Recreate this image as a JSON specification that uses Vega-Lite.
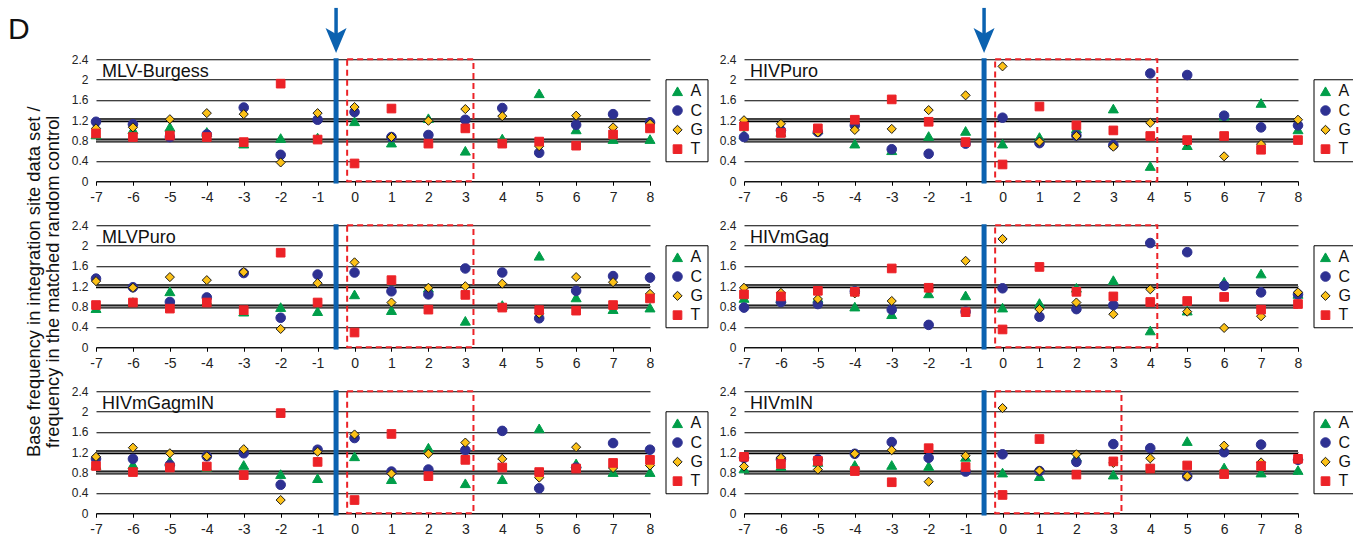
{
"$schema":"https://vega.github.io/schema/vega-lite/v6.json",
"background":"#ffffff",
"autosize":{"type":"pad"},
"padding":{"left":8,"top":5.25,"right":0,"bottom":0},
"datasets":{"pts":[
{"panel":"MLV-Burgess","pos":-7,"base":"A","value":0.92},{"panel":"MLV-Burgess","pos":-7,"base":"C","value":1.17},{"panel":"MLV-Burgess","pos":-7,"base":"G","value":1.04},{"panel":"MLV-Burgess","pos":-7,"base":"T","value":0.94},
{"panel":"MLV-Burgess","pos":-6,"base":"A","value":1.02},{"panel":"MLV-Burgess","pos":-6,"base":"C","value":1.12},{"panel":"MLV-Burgess","pos":-6,"base":"G","value":1.06},{"panel":"MLV-Burgess","pos":-6,"base":"T","value":0.87},
{"panel":"MLV-Burgess","pos":-5,"base":"A","value":1.07},{"panel":"MLV-Burgess","pos":-5,"base":"C","value":0.87},{"panel":"MLV-Burgess","pos":-5,"base":"G","value":1.22},{"panel":"MLV-Burgess","pos":-5,"base":"T","value":0.90},
{"panel":"MLV-Burgess","pos":-4,"base":"A","value":0.97},{"panel":"MLV-Burgess","pos":-4,"base":"C","value":0.92},{"panel":"MLV-Burgess","pos":-4,"base":"G","value":1.34},{"panel":"MLV-Burgess","pos":-4,"base":"T","value":0.87},
{"panel":"MLV-Burgess","pos":-3,"base":"A","value":0.74},{"panel":"MLV-Burgess","pos":-3,"base":"C","value":1.45},{"panel":"MLV-Burgess","pos":-3,"base":"G","value":1.32},{"panel":"MLV-Burgess","pos":-3,"base":"T","value":0.77},
{"panel":"MLV-Burgess","pos":-2,"base":"A","value":0.85},{"panel":"MLV-Burgess","pos":-2,"base":"C","value":0.52},{"panel":"MLV-Burgess","pos":-2,"base":"G","value":0.37},{"panel":"MLV-Burgess","pos":-2,"base":"T","value":1.92},
{"panel":"MLV-Burgess","pos":-1,"base":"A","value":0.86},{"panel":"MLV-Burgess","pos":-1,"base":"C","value":1.21},{"panel":"MLV-Burgess","pos":-1,"base":"G","value":1.34},{"panel":"MLV-Burgess","pos":-1,"base":"T","value":0.82},
{"panel":"MLV-Burgess","pos":0,"base":"A","value":1.18},{"panel":"MLV-Burgess","pos":0,"base":"C","value":1.36},{"panel":"MLV-Burgess","pos":0,"base":"G","value":1.46},{"panel":"MLV-Burgess","pos":0,"base":"T","value":0.35},
{"panel":"MLV-Burgess","pos":1,"base":"A","value":0.76},{"panel":"MLV-Burgess","pos":1,"base":"C","value":0.87},{"panel":"MLV-Burgess","pos":1,"base":"G","value":0.87},{"panel":"MLV-Burgess","pos":1,"base":"T","value":1.43},
{"panel":"MLV-Burgess","pos":2,"base":"A","value":1.24},{"panel":"MLV-Burgess","pos":2,"base":"C","value":0.91},{"panel":"MLV-Burgess","pos":2,"base":"G","value":1.19},{"panel":"MLV-Burgess","pos":2,"base":"T","value":0.74},
{"panel":"MLV-Burgess","pos":3,"base":"A","value":0.60},{"panel":"MLV-Burgess","pos":3,"base":"C","value":1.21},{"panel":"MLV-Burgess","pos":3,"base":"G","value":1.42},{"panel":"MLV-Burgess","pos":3,"base":"T","value":1.04},
{"panel":"MLV-Burgess","pos":4,"base":"A","value":0.84},{"panel":"MLV-Burgess","pos":4,"base":"C","value":1.44},{"panel":"MLV-Burgess","pos":4,"base":"G","value":1.28},{"panel":"MLV-Burgess","pos":4,"base":"T","value":0.74},
{"panel":"MLV-Burgess","pos":5,"base":"A","value":1.73},{"panel":"MLV-Burgess","pos":5,"base":"C","value":0.56},{"panel":"MLV-Burgess","pos":5,"base":"G","value":0.69},{"panel":"MLV-Burgess","pos":5,"base":"T","value":0.78},
{"panel":"MLV-Burgess","pos":6,"base":"A","value":1.02},{"panel":"MLV-Burgess","pos":6,"base":"C","value":1.11},{"panel":"MLV-Burgess","pos":6,"base":"G","value":1.29},{"panel":"MLV-Burgess","pos":6,"base":"T","value":0.70},
{"panel":"MLV-Burgess","pos":7,"base":"A","value":0.83},{"panel":"MLV-Burgess","pos":7,"base":"C","value":1.32},{"panel":"MLV-Burgess","pos":7,"base":"G","value":1.06},{"panel":"MLV-Burgess","pos":7,"base":"T","value":0.92},
{"panel":"MLV-Burgess","pos":8,"base":"A","value":0.83},{"panel":"MLV-Burgess","pos":8,"base":"C","value":1.16},{"panel":"MLV-Burgess","pos":8,"base":"G","value":1.13},{"panel":"MLV-Burgess","pos":8,"base":"T","value":1.04},

{"panel":"HIVPuro","pos":-7,"base":"A","value":0.92},{"panel":"HIVPuro","pos":-7,"base":"C","value":0.87},{"panel":"HIVPuro","pos":-7,"base":"G","value":1.20},{"panel":"HIVPuro","pos":-7,"base":"T","value":1.08},
{"panel":"HIVPuro","pos":-6,"base":"A","value":0.97},{"panel":"HIVPuro","pos":-6,"base":"C","value":1.00},{"panel":"HIVPuro","pos":-6,"base":"G","value":1.13},{"panel":"HIVPuro","pos":-6,"base":"T","value":0.95},
{"panel":"HIVPuro","pos":-5,"base":"A","value":1.02},{"panel":"HIVPuro","pos":-5,"base":"C","value":0.97},{"panel":"HIVPuro","pos":-5,"base":"G","value":0.96},{"panel":"HIVPuro","pos":-5,"base":"T","value":1.04},
{"panel":"HIVPuro","pos":-4,"base":"A","value":0.74},{"panel":"HIVPuro","pos":-4,"base":"C","value":1.10},{"panel":"HIVPuro","pos":-4,"base":"G","value":1.01},{"panel":"HIVPuro","pos":-4,"base":"T","value":1.21},
{"panel":"HIVPuro","pos":-3,"base":"A","value":0.61},{"panel":"HIVPuro","pos":-3,"base":"C","value":0.63},{"panel":"HIVPuro","pos":-3,"base":"G","value":1.03},{"panel":"HIVPuro","pos":-3,"base":"T","value":1.61},
{"panel":"HIVPuro","pos":-2,"base":"A","value":0.89},{"panel":"HIVPuro","pos":-2,"base":"C","value":0.54},{"panel":"HIVPuro","pos":-2,"base":"G","value":1.40},{"panel":"HIVPuro","pos":-2,"base":"T","value":1.17},
{"panel":"HIVPuro","pos":-1,"base":"A","value":0.99},{"panel":"HIVPuro","pos":-1,"base":"C","value":0.74},{"panel":"HIVPuro","pos":-1,"base":"G","value":1.69},{"panel":"HIVPuro","pos":-1,"base":"T","value":0.77},
{"panel":"HIVPuro","pos":0,"base":"A","value":0.74},{"panel":"HIVPuro","pos":0,"base":"C","value":1.25},{"panel":"HIVPuro","pos":0,"base":"G","value":2.26},{"panel":"HIVPuro","pos":0,"base":"T","value":0.33},
{"panel":"HIVPuro","pos":1,"base":"A","value":0.87},{"panel":"HIVPuro","pos":1,"base":"C","value":0.75},{"panel":"HIVPuro","pos":1,"base":"G","value":0.78},{"panel":"HIVPuro","pos":1,"base":"T","value":1.47},
{"panel":"HIVPuro","pos":2,"base":"A","value":1.04},{"panel":"HIVPuro","pos":2,"base":"C","value":0.90},{"panel":"HIVPuro","pos":2,"base":"G","value":0.89},{"panel":"HIVPuro","pos":2,"base":"T","value":1.10},
{"panel":"HIVPuro","pos":3,"base":"A","value":1.43},{"panel":"HIVPuro","pos":3,"base":"C","value":0.71},{"panel":"HIVPuro","pos":3,"base":"G","value":0.68},{"panel":"HIVPuro","pos":3,"base":"T","value":1.00},
{"panel":"HIVPuro","pos":4,"base":"A","value":0.30},{"panel":"HIVPuro","pos":4,"base":"C","value":2.12},{"panel":"HIVPuro","pos":4,"base":"G","value":1.15},{"panel":"HIVPuro","pos":4,"base":"T","value":0.89},
{"panel":"HIVPuro","pos":5,"base":"A","value":0.71},{"panel":"HIVPuro","pos":5,"base":"C","value":2.09},{"panel":"HIVPuro","pos":5,"base":"G","value":0.78},{"panel":"HIVPuro","pos":5,"base":"T","value":0.81},
{"panel":"HIVPuro","pos":6,"base":"A","value":1.29},{"panel":"HIVPuro","pos":6,"base":"C","value":1.29},{"panel":"HIVPuro","pos":6,"base":"G","value":0.49},{"panel":"HIVPuro","pos":6,"base":"T","value":0.89},
{"panel":"HIVPuro","pos":7,"base":"A","value":1.54},{"panel":"HIVPuro","pos":7,"base":"C","value":1.06},{"panel":"HIVPuro","pos":7,"base":"G","value":0.73},{"panel":"HIVPuro","pos":7,"base":"T","value":0.62},
{"panel":"HIVPuro","pos":8,"base":"A","value":1.02},{"panel":"HIVPuro","pos":8,"base":"C","value":1.10},{"panel":"HIVPuro","pos":8,"base":"G","value":1.21},{"panel":"HIVPuro","pos":8,"base":"T","value":0.81},

{"panel":"MLVPuro","pos":-7,"base":"A","value":0.77},{"panel":"MLVPuro","pos":-7,"base":"C","value":1.35},{"panel":"MLVPuro","pos":-7,"base":"G","value":1.30},{"panel":"MLVPuro","pos":-7,"base":"T","value":0.83},
{"panel":"MLVPuro","pos":-6,"base":"A","value":0.89},{"panel":"MLVPuro","pos":-6,"base":"C","value":1.18},{"panel":"MLVPuro","pos":-6,"base":"G","value":1.17},{"panel":"MLVPuro","pos":-6,"base":"T","value":0.88},
{"panel":"MLVPuro","pos":-5,"base":"A","value":1.10},{"panel":"MLVPuro","pos":-5,"base":"C","value":0.89},{"panel":"MLVPuro","pos":-5,"base":"G","value":1.38},{"panel":"MLVPuro","pos":-5,"base":"T","value":0.76},
{"panel":"MLVPuro","pos":-4,"base":"A","value":0.92},{"panel":"MLVPuro","pos":-4,"base":"C","value":0.98},{"panel":"MLVPuro","pos":-4,"base":"G","value":1.32},{"panel":"MLVPuro","pos":-4,"base":"T","value":0.88},
{"panel":"MLVPuro","pos":-3,"base":"A","value":0.70},{"panel":"MLVPuro","pos":-3,"base":"C","value":1.46},{"panel":"MLVPuro","pos":-3,"base":"G","value":1.48},{"panel":"MLVPuro","pos":-3,"base":"T","value":0.73},
{"panel":"MLVPuro","pos":-2,"base":"A","value":0.79},{"panel":"MLVPuro","pos":-2,"base":"C","value":0.58},{"panel":"MLVPuro","pos":-2,"base":"G","value":0.36},{"panel":"MLVPuro","pos":-2,"base":"T","value":1.86},
{"panel":"MLVPuro","pos":-1,"base":"A","value":0.71},{"panel":"MLVPuro","pos":-1,"base":"C","value":1.43},{"panel":"MLVPuro","pos":-1,"base":"G","value":1.26},{"panel":"MLVPuro","pos":-1,"base":"T","value":0.88},
{"panel":"MLVPuro","pos":0,"base":"A","value":1.04},{"panel":"MLVPuro","pos":0,"base":"C","value":1.47},{"panel":"MLVPuro","pos":0,"base":"G","value":1.67},{"panel":"MLVPuro","pos":0,"base":"T","value":0.29},
{"panel":"MLVPuro","pos":1,"base":"A","value":0.73},{"panel":"MLVPuro","pos":1,"base":"C","value":1.10},{"panel":"MLVPuro","pos":1,"base":"G","value":0.88},{"panel":"MLVPuro","pos":1,"base":"T","value":1.32},
{"panel":"MLVPuro","pos":2,"base":"A","value":1.17},{"panel":"MLVPuro","pos":2,"base":"C","value":1.04},{"panel":"MLVPuro","pos":2,"base":"G","value":1.17},{"panel":"MLVPuro","pos":2,"base":"T","value":0.74},
{"panel":"MLVPuro","pos":3,"base":"A","value":0.52},{"panel":"MLVPuro","pos":3,"base":"C","value":1.55},{"panel":"MLVPuro","pos":3,"base":"G","value":1.20},{"panel":"MLVPuro","pos":3,"base":"T","value":1.03},
{"panel":"MLVPuro","pos":4,"base":"A","value":0.83},{"panel":"MLVPuro","pos":4,"base":"C","value":1.47},{"panel":"MLVPuro","pos":4,"base":"G","value":1.25},{"panel":"MLVPuro","pos":4,"base":"T","value":0.78},
{"panel":"MLVPuro","pos":5,"base":"A","value":1.80},{"panel":"MLVPuro","pos":5,"base":"C","value":0.57},{"panel":"MLVPuro","pos":5,"base":"G","value":0.66},{"panel":"MLVPuro","pos":5,"base":"T","value":0.73},
{"panel":"MLVPuro","pos":6,"base":"A","value":0.98},{"panel":"MLVPuro","pos":6,"base":"C","value":1.11},{"panel":"MLVPuro","pos":6,"base":"G","value":1.38},{"panel":"MLVPuro","pos":6,"base":"T","value":0.72},
{"panel":"MLVPuro","pos":7,"base":"A","value":0.75},{"panel":"MLVPuro","pos":7,"base":"C","value":1.40},{"panel":"MLVPuro","pos":7,"base":"G","value":1.28},{"panel":"MLVPuro","pos":7,"base":"T","value":0.83},
{"panel":"MLVPuro","pos":8,"base":"A","value":0.78},{"panel":"MLVPuro","pos":8,"base":"C","value":1.37},{"panel":"MLVPuro","pos":8,"base":"G","value":1.05},{"panel":"MLVPuro","pos":8,"base":"T","value":0.96},

{"panel":"HIVmGag","pos":-7,"base":"A","value":0.97},{"panel":"HIVmGag","pos":-7,"base":"C","value":0.78},{"panel":"HIVmGag","pos":-7,"base":"G","value":1.17},{"panel":"HIVmGag","pos":-7,"base":"T","value":1.04},
{"panel":"HIVmGag","pos":-6,"base":"A","value":0.96},{"panel":"HIVmGag","pos":-6,"base":"C","value":0.89},{"panel":"HIVmGag","pos":-6,"base":"G","value":1.07},{"panel":"HIVmGag","pos":-6,"base":"T","value":1.00},
{"panel":"HIVmGag","pos":-5,"base":"A","value":0.97},{"panel":"HIVmGag","pos":-5,"base":"C","value":0.85},{"panel":"HIVmGag","pos":-5,"base":"G","value":0.95},{"panel":"HIVmGag","pos":-5,"base":"T","value":1.11},
{"panel":"HIVmGag","pos":-4,"base":"A","value":0.80},{"panel":"HIVmGag","pos":-4,"base":"C","value":1.10},{"panel":"HIVmGag","pos":-4,"base":"G","value":1.06},{"panel":"HIVmGag","pos":-4,"base":"T","value":1.09},
{"panel":"HIVmGag","pos":-3,"base":"A","value":0.65},{"panel":"HIVmGag","pos":-3,"base":"C","value":0.74},{"panel":"HIVmGag","pos":-3,"base":"G","value":0.91},{"panel":"HIVmGag","pos":-3,"base":"T","value":1.55},
{"panel":"HIVmGag","pos":-2,"base":"A","value":1.06},{"panel":"HIVmGag","pos":-2,"base":"C","value":0.44},{"panel":"HIVmGag","pos":-2,"base":"G","value":1.16},{"panel":"HIVmGag","pos":-2,"base":"T","value":1.17},
{"panel":"HIVmGag","pos":-1,"base":"A","value":1.02},{"panel":"HIVmGag","pos":-1,"base":"C","value":0.70},{"panel":"HIVmGag","pos":-1,"base":"G","value":1.70},{"panel":"HIVmGag","pos":-1,"base":"T","value":0.69},
{"panel":"HIVmGag","pos":0,"base":"A","value":0.78},{"panel":"HIVmGag","pos":0,"base":"C","value":1.16},{"panel":"HIVmGag","pos":0,"base":"G","value":2.13},{"panel":"HIVmGag","pos":0,"base":"T","value":0.35},
{"panel":"HIVmGag","pos":1,"base":"A","value":0.87},{"panel":"HIVmGag","pos":1,"base":"C","value":0.60},{"panel":"HIVmGag","pos":1,"base":"G","value":0.75},{"panel":"HIVmGag","pos":1,"base":"T","value":1.58},
{"panel":"HIVmGag","pos":2,"base":"A","value":1.17},{"panel":"HIVmGag","pos":2,"base":"C","value":0.75},{"panel":"HIVmGag","pos":2,"base":"G","value":0.88},{"panel":"HIVmGag","pos":2,"base":"T","value":1.09},
{"panel":"HIVmGag","pos":3,"base":"A","value":1.32},{"panel":"HIVmGag","pos":3,"base":"C","value":0.83},{"panel":"HIVmGag","pos":3,"base":"G","value":0.65},{"panel":"HIVmGag","pos":3,"base":"T","value":1.00},
{"panel":"HIVmGag","pos":4,"base":"A","value":0.33},{"panel":"HIVmGag","pos":4,"base":"C","value":2.05},{"panel":"HIVmGag","pos":4,"base":"G","value":1.14},{"panel":"HIVmGag","pos":4,"base":"T","value":0.89},
{"panel":"HIVmGag","pos":5,"base":"A","value":0.72},{"panel":"HIVmGag","pos":5,"base":"C","value":1.87},{"panel":"HIVmGag","pos":5,"base":"G","value":0.70},{"panel":"HIVmGag","pos":5,"base":"T","value":0.91},
{"panel":"HIVmGag","pos":6,"base":"A","value":1.29},{"panel":"HIVmGag","pos":6,"base":"C","value":1.21},{"panel":"HIVmGag","pos":6,"base":"G","value":0.38},{"panel":"HIVmGag","pos":6,"base":"T","value":0.99},
{"panel":"HIVmGag","pos":7,"base":"A","value":1.45},{"panel":"HIVmGag","pos":7,"base":"C","value":1.08},{"panel":"HIVmGag","pos":7,"base":"G","value":0.61},{"panel":"HIVmGag","pos":7,"base":"T","value":0.74},
{"panel":"HIVmGag","pos":8,"base":"A","value":1.05},{"panel":"HIVmGag","pos":8,"base":"C","value":1.04},{"panel":"HIVmGag","pos":8,"base":"G","value":1.08},{"panel":"HIVmGag","pos":8,"base":"T","value":0.85},

{"panel":"HIVmGagmIN","pos":-7,"base":"A","value":0.95},{"panel":"HIVmGagmIN","pos":-7,"base":"C","value":1.07},{"panel":"HIVmGagmIN","pos":-7,"base":"G","value":1.11},{"panel":"HIVmGagmIN","pos":-7,"base":"T","value":0.93},
{"panel":"HIVmGagmIN","pos":-6,"base":"A","value":0.96},{"panel":"HIVmGagmIN","pos":-6,"base":"C","value":1.07},{"panel":"HIVmGagmIN","pos":-6,"base":"G","value":1.29},{"panel":"HIVmGagmIN","pos":-6,"base":"T","value":0.81},
{"panel":"HIVmGagmIN","pos":-5,"base":"A","value":1.03},{"panel":"HIVmGagmIN","pos":-5,"base":"C","value":0.95},{"panel":"HIVmGagmIN","pos":-5,"base":"G","value":1.18},{"panel":"HIVmGagmIN","pos":-5,"base":"T","value":0.90},
{"panel":"HIVmGagmIN","pos":-4,"base":"A","value":0.91},{"panel":"HIVmGagmIN","pos":-4,"base":"C","value":1.12},{"panel":"HIVmGagmIN","pos":-4,"base":"G","value":1.12},{"panel":"HIVmGagmIN","pos":-4,"base":"T","value":0.92},
{"panel":"HIVmGagmIN","pos":-3,"base":"A","value":0.95},{"panel":"HIVmGagmIN","pos":-3,"base":"C","value":1.18},{"panel":"HIVmGagmIN","pos":-3,"base":"G","value":1.26},{"panel":"HIVmGagmIN","pos":-3,"base":"T","value":0.75},
{"panel":"HIVmGagmIN","pos":-2,"base":"A","value":0.77},{"panel":"HIVmGagmIN","pos":-2,"base":"C","value":0.56},{"panel":"HIVmGagmIN","pos":-2,"base":"G","value":0.26},{"panel":"HIVmGagmIN","pos":-2,"base":"T","value":1.97},
{"panel":"HIVmGagmIN","pos":-1,"base":"A","value":0.69},{"panel":"HIVmGagmIN","pos":-1,"base":"C","value":1.25},{"panel":"HIVmGagmIN","pos":-1,"base":"G","value":1.21},{"panel":"HIVmGagmIN","pos":-1,"base":"T","value":1.01},
{"panel":"HIVmGagmIN","pos":0,"base":"A","value":1.12},{"panel":"HIVmGagmIN","pos":0,"base":"C","value":1.48},{"panel":"HIVmGagmIN","pos":0,"base":"G","value":1.55},{"panel":"HIVmGagmIN","pos":0,"base":"T","value":0.26},
{"panel":"HIVmGagmIN","pos":1,"base":"A","value":0.67},{"panel":"HIVmGagmIN","pos":1,"base":"C","value":0.82},{"panel":"HIVmGagmIN","pos":1,"base":"G","value":0.78},{"panel":"HIVmGagmIN","pos":1,"base":"T","value":1.56},
{"panel":"HIVmGagmIN","pos":2,"base":"A","value":1.29},{"panel":"HIVmGagmIN","pos":2,"base":"C","value":0.86},{"panel":"HIVmGagmIN","pos":2,"base":"G","value":1.17},{"panel":"HIVmGagmIN","pos":2,"base":"T","value":0.73},
{"panel":"HIVmGagmIN","pos":3,"base":"A","value":0.59},{"panel":"HIVmGagmIN","pos":3,"base":"C","value":1.24},{"panel":"HIVmGagmIN","pos":3,"base":"G","value":1.39},{"panel":"HIVmGagmIN","pos":3,"base":"T","value":1.05},
{"panel":"HIVmGagmIN","pos":4,"base":"A","value":0.67},{"panel":"HIVmGagmIN","pos":4,"base":"C","value":1.62},{"panel":"HIVmGagmIN","pos":4,"base":"G","value":1.07},{"panel":"HIVmGagmIN","pos":4,"base":"T","value":0.90},
{"panel":"HIVmGagmIN","pos":5,"base":"A","value":1.67},{"panel":"HIVmGagmIN","pos":5,"base":"C","value":0.49},{"panel":"HIVmGagmIN","pos":5,"base":"G","value":0.70},{"panel":"HIVmGagmIN","pos":5,"base":"T","value":0.81},
{"panel":"HIVmGagmIN","pos":6,"base":"A","value":0.98},{"panel":"HIVmGagmIN","pos":6,"base":"C","value":0.90},{"panel":"HIVmGagmIN","pos":6,"base":"G","value":1.30},{"panel":"HIVmGagmIN","pos":6,"base":"T","value":0.88},
{"panel":"HIVmGagmIN","pos":7,"base":"A","value":0.81},{"panel":"HIVmGagmIN","pos":7,"base":"C","value":1.38},{"panel":"HIVmGagmIN","pos":7,"base":"G","value":0.89},{"panel":"HIVmGagmIN","pos":7,"base":"T","value":0.99},
{"panel":"HIVmGagmIN","pos":8,"base":"A","value":0.81},{"panel":"HIVmGagmIN","pos":8,"base":"C","value":1.25},{"panel":"HIVmGagmIN","pos":8,"base":"G","value":0.94},{"panel":"HIVmGagmIN","pos":8,"base":"T","value":1.05},

{"panel":"HIVmIN","pos":-7,"base":"A","value":0.88},{"panel":"HIVmIN","pos":-7,"base":"C","value":1.09},{"panel":"HIVmIN","pos":-7,"base":"G","value":0.92},{"panel":"HIVmIN","pos":-7,"base":"T","value":1.11},
{"panel":"HIVmIN","pos":-6,"base":"A","value":0.93},{"panel":"HIVmIN","pos":-6,"base":"C","value":1.06},{"panel":"HIVmIN","pos":-6,"base":"G","value":1.09},{"panel":"HIVmIN","pos":-6,"base":"T","value":0.97},
{"panel":"HIVmIN","pos":-5,"base":"A","value":1.01},{"panel":"HIVmIN","pos":-5,"base":"C","value":1.06},{"panel":"HIVmIN","pos":-5,"base":"G","value":0.86},{"panel":"HIVmIN","pos":-5,"base":"T","value":1.03},
{"panel":"HIVmIN","pos":-4,"base":"A","value":0.95},{"panel":"HIVmIN","pos":-4,"base":"C","value":1.17},{"panel":"HIVmIN","pos":-4,"base":"G","value":1.17},{"panel":"HIVmIN","pos":-4,"base":"T","value":0.83},
{"panel":"HIVmIN","pos":-3,"base":"A","value":0.95},{"panel":"HIVmIN","pos":-3,"base":"C","value":1.40},{"panel":"HIVmIN","pos":-3,"base":"G","value":1.24},{"panel":"HIVmIN","pos":-3,"base":"T","value":0.61},
{"panel":"HIVmIN","pos":-2,"base":"A","value":0.93},{"panel":"HIVmIN","pos":-2,"base":"C","value":1.09},{"panel":"HIVmIN","pos":-2,"base":"G","value":0.62},{"panel":"HIVmIN","pos":-2,"base":"T","value":1.28},
{"panel":"HIVmIN","pos":-1,"base":"A","value":1.11},{"panel":"HIVmIN","pos":-1,"base":"C","value":0.82},{"panel":"HIVmIN","pos":-1,"base":"G","value":1.13},{"panel":"HIVmIN","pos":-1,"base":"T","value":0.91},
{"panel":"HIVmIN","pos":0,"base":"A","value":0.80},{"panel":"HIVmIN","pos":0,"base":"C","value":1.16},{"panel":"HIVmIN","pos":0,"base":"G","value":2.07},{"panel":"HIVmIN","pos":0,"base":"T","value":0.36},
{"panel":"HIVmIN","pos":1,"base":"A","value":0.73},{"panel":"HIVmIN","pos":1,"base":"C","value":0.83},{"panel":"HIVmIN","pos":1,"base":"G","value":0.84},{"panel":"HIVmIN","pos":1,"base":"T","value":1.46},
{"panel":"HIVmIN","pos":2,"base":"A","value":1.11},{"panel":"HIVmIN","pos":2,"base":"C","value":1.01},{"panel":"HIVmIN","pos":2,"base":"G","value":1.16},{"panel":"HIVmIN","pos":2,"base":"T","value":0.76},
{"panel":"HIVmIN","pos":3,"base":"A","value":0.76},{"panel":"HIVmIN","pos":3,"base":"C","value":1.36},{"panel":"HIVmIN","pos":3,"base":"G","value":0.99},{"panel":"HIVmIN","pos":3,"base":"T","value":1.02},
{"panel":"HIVmIN","pos":4,"base":"A","value":0.89},{"panel":"HIVmIN","pos":4,"base":"C","value":1.28},{"panel":"HIVmIN","pos":4,"base":"G","value":1.08},{"panel":"HIVmIN","pos":4,"base":"T","value":0.88},
{"panel":"HIVmIN","pos":5,"base":"A","value":1.42},{"panel":"HIVmIN","pos":5,"base":"C","value":0.73},{"panel":"HIVmIN","pos":5,"base":"G","value":0.73},{"panel":"HIVmIN","pos":5,"base":"T","value":0.94},
{"panel":"HIVmIN","pos":6,"base":"A","value":0.90},{"panel":"HIVmIN","pos":6,"base":"C","value":1.20},{"panel":"HIVmIN","pos":6,"base":"G","value":1.33},{"panel":"HIVmIN","pos":6,"base":"T","value":0.77},
{"panel":"HIVmIN","pos":7,"base":"A","value":0.80},{"panel":"HIVmIN","pos":7,"base":"C","value":1.35},{"panel":"HIVmIN","pos":7,"base":"G","value":1.00},{"panel":"HIVmIN","pos":7,"base":"T","value":0.93},
{"panel":"HIVmIN","pos":8,"base":"A","value":0.85},{"panel":"HIVmIN","pos":8,"base":"C","value":1.05},{"panel":"HIVmIN","pos":8,"base":"G","value":1.06},{"panel":"HIVmIN","pos":8,"base":"T","value":1.07}
]},
"columns":2,
"spacing":{"row":44,"column":94},
"bounds":"flush",
"resolve":{"scale":{"shape":"independent","fill":"independent","stroke":"independent","size":"independent"},"legend":{"shape":"independent","fill":"independent","stroke":"independent","size":"independent"}},
"concat":[
{"width":554,"height":122,"layer":[
 {"data":{"values":[{"y":0.8},{"y":1.2}]},"mark":{"type":"rule","color":"#000000","strokeWidth":4},"encoding":{"y":{"field":"y","type":"quantitative"}}},
 {"data":{"values":[{"y":0.8},{"y":1.2}]},"mark":{"type":"rule","color":"#8a8a8a","strokeWidth":1.6},"encoding":{"y":{"field":"y","type":"quantitative"}}},
 {"data":{"values":[{}]},"mark":{"type":"rule","color":"#0b62b0","strokeWidth":5},"encoding":{"x":{"datum":-0.5,"type":"quantitative"},"y":{"datum":-0.045,"type":"quantitative"},"y2":{"datum":2.42}}},
 {"data":{"values":[{}]},"mark":{"type":"rect","fill":"transparent","stroke":"#ec2227","strokeWidth":2,"strokeDash":[6,4]},"encoding":{"x":{"datum":-0.2,"type":"quantitative"},"x2":{"datum":3.22},"y":{"datum":0,"type":"quantitative"},"y2":{"datum":2.4}}},
 {"data":{"values":[{}]},"mark":{"type":"rule","color":"#0b62b0","strokeWidth":3.5},"encoding":{"x":{"datum":-0.5,"type":"quantitative"},"y":{"datum":2.89,"type":"quantitative"},"y2":{"datum":3.41}}},
 {"data":{"values":[{}]},"mark":{"type":"point","shape":"M0,0L-1,-2.38L0,-1.8L1,-2.38Z","size":441,"filled":true,"color":"#0b62b0","opacity":1,"strokeWidth":0},"encoding":{"x":{"datum":-0.5,"type":"quantitative"},"y":{"datum":2.524,"type":"quantitative"}}},
 {"data":{"name":"pts"},"transform":[{"filter":"datum.panel==='MLV-Burgess'"}],"mark":{"type":"point","filled":true,"opacity":1,"strokeWidth":1},"encoding":{
   "x":{"field":"pos","type":"quantitative","scale":{"domain":[-7,8],"nice":false,"zero":false},"axis":{"values":[-7,-6,-5,-4,-3,-2,-1,0,1,2,3,4,5,6,7,8],"tickCount":40,"labelExpr":"''+datum.value","title":null,"grid":false}},
   "y":{"field":"value","type":"quantitative","scale":{"domain":[0,2.4],"nice":false,"zero":false},"axis":{"values":[0,0.4,0.8,1.2,1.6,2,2.4],"tickCount":40,"format":"~g","title":null,"grid":true}},
   "shape":{"field":"base","type":"nominal","scale":{"domain":["A","C","G","T"],"range":["triangle-up","circle","diamond","square"]},"legend":{"title":null,"orient":"none","legendX":569.5,"legendY":20}},
   "fill":{"field":"base","type":"nominal","scale":{"domain":["A","C","G","T"],"range":["#009e49","#2e3192","#fcc117","#ec2227"]},"legend":{"title":null,"orient":"none","legendX":569.5,"legendY":20}},
   "stroke":{"field":"base","type":"nominal","scale":{"domain":["A","C","G","T"],"range":["#009e49","#2e3192","#1a1a1a","#ec2227"]},"legend":{"title":null,"orient":"none","legendX":569.5,"legendY":20}},
   "size":{"field":"base","type":"nominal","scale":{"domain":["A","C","G","T"],"range":[100,75,70,52]},"legend":{"title":null,"orient":"none","legendX":569.5,"legendY":20}}}},
 {"data":{"values":[{"name":"MLV-Burgess"}]},"mark":{"type":"text","align":"left","baseline":"alphabetic","fontSize":18,"dx":6,"dy":17.7,"color":"#111111"},"encoding":{"x":{"datum":-7,"type":"quantitative"},"y":{"datum":2.4,"type":"quantitative"},"text":{"field":"name"}}},
 {"data":{"values":[{"label":"D"}]},"mark":{"type":"text","align":"left","baseline":"alphabetic","fontSize":30,"dx":-88,"dy":-20.3,"color":"#111111"},"encoding":{"x":{"datum":-7,"type":"quantitative"},"y":{"datum":2.4,"type":"quantitative"},"text":{"field":"label"}}}
]},
{"width":554,"height":122,"layer":[
 {"data":{"values":[{"y":0.8},{"y":1.2}]},"mark":{"type":"rule","color":"#000000","strokeWidth":4},"encoding":{"y":{"field":"y","type":"quantitative"}}},
 {"data":{"values":[{"y":0.8},{"y":1.2}]},"mark":{"type":"rule","color":"#8a8a8a","strokeWidth":1.6},"encoding":{"y":{"field":"y","type":"quantitative"}}},
 {"data":{"values":[{}]},"mark":{"type":"rule","color":"#0b62b0","strokeWidth":5},"encoding":{"x":{"datum":-0.5,"type":"quantitative"},"y":{"datum":-0.045,"type":"quantitative"},"y2":{"datum":2.42}}},
 {"data":{"values":[{}]},"mark":{"type":"rect","fill":"transparent","stroke":"#ec2227","strokeWidth":2,"strokeDash":[6,4]},"encoding":{"x":{"datum":-0.2,"type":"quantitative"},"x2":{"datum":4.19},"y":{"datum":0,"type":"quantitative"},"y2":{"datum":2.4}}},
 {"data":{"values":[{}]},"mark":{"type":"rule","color":"#0b62b0","strokeWidth":3.5},"encoding":{"x":{"datum":-0.5,"type":"quantitative"},"y":{"datum":2.89,"type":"quantitative"},"y2":{"datum":3.41}}},
 {"data":{"values":[{}]},"mark":{"type":"point","shape":"M0,0L-1,-2.38L0,-1.8L1,-2.38Z","size":441,"filled":true,"color":"#0b62b0","opacity":1,"strokeWidth":0},"encoding":{"x":{"datum":-0.5,"type":"quantitative"},"y":{"datum":2.524,"type":"quantitative"}}},
 {"data":{"name":"pts"},"transform":[{"filter":"datum.panel==='HIVPuro'"}],"mark":{"type":"point","filled":true,"opacity":1,"strokeWidth":1},"encoding":{
   "x":{"field":"pos","type":"quantitative","scale":{"domain":[-7,8],"nice":false,"zero":false},"axis":{"values":[-7,-6,-5,-4,-3,-2,-1,0,1,2,3,4,5,6,7,8],"tickCount":40,"labelExpr":"''+datum.value","title":null,"grid":false}},
   "y":{"field":"value","type":"quantitative","scale":{"domain":[0,2.4],"nice":false,"zero":false},"axis":{"values":[0,0.4,0.8,1.2,1.6,2,2.4],"tickCount":40,"format":"~g","title":null,"grid":true}},
   "shape":{"field":"base","type":"nominal","scale":{"domain":["A","C","G","T"],"range":["triangle-up","circle","diamond","square"]},"legend":{"title":null,"orient":"none","legendX":569.5,"legendY":20}},
   "fill":{"field":"base","type":"nominal","scale":{"domain":["A","C","G","T"],"range":["#009e49","#2e3192","#fcc117","#ec2227"]},"legend":{"title":null,"orient":"none","legendX":569.5,"legendY":20}},
   "stroke":{"field":"base","type":"nominal","scale":{"domain":["A","C","G","T"],"range":["#009e49","#2e3192","#1a1a1a","#ec2227"]},"legend":{"title":null,"orient":"none","legendX":569.5,"legendY":20}},
   "size":{"field":"base","type":"nominal","scale":{"domain":["A","C","G","T"],"range":[100,75,70,52]},"legend":{"title":null,"orient":"none","legendX":569.5,"legendY":20}}}},
 {"data":{"values":[{"name":"HIVPuro"}]},"mark":{"type":"text","align":"left","baseline":"alphabetic","fontSize":18,"dx":6,"dy":17.7,"color":"#111111"},"encoding":{"x":{"datum":-7,"type":"quantitative"},"y":{"datum":2.4,"type":"quantitative"},"text":{"field":"name"}}}
]},
{"width":554,"height":122,"layer":[
 {"data":{"values":[{"y":0.8},{"y":1.2}]},"mark":{"type":"rule","color":"#000000","strokeWidth":4},"encoding":{"y":{"field":"y","type":"quantitative"}}},
 {"data":{"values":[{"y":0.8},{"y":1.2}]},"mark":{"type":"rule","color":"#8a8a8a","strokeWidth":1.6},"encoding":{"y":{"field":"y","type":"quantitative"}}},
 {"data":{"values":[{}]},"mark":{"type":"rule","color":"#0b62b0","strokeWidth":5},"encoding":{"x":{"datum":-0.5,"type":"quantitative"},"y":{"datum":-0.045,"type":"quantitative"},"y2":{"datum":2.42}}},
 {"data":{"values":[{}]},"mark":{"type":"rect","fill":"transparent","stroke":"#ec2227","strokeWidth":2,"strokeDash":[6,4]},"encoding":{"x":{"datum":-0.2,"type":"quantitative"},"x2":{"datum":3.22},"y":{"datum":0,"type":"quantitative"},"y2":{"datum":2.4}}},
 {"data":{"name":"pts"},"transform":[{"filter":"datum.panel==='MLVPuro'"}],"mark":{"type":"point","filled":true,"opacity":1,"strokeWidth":1},"encoding":{
   "x":{"field":"pos","type":"quantitative","scale":{"domain":[-7,8],"nice":false,"zero":false},"axis":{"values":[-7,-6,-5,-4,-3,-2,-1,0,1,2,3,4,5,6,7,8],"tickCount":40,"labelExpr":"''+datum.value","title":null,"grid":false}},
   "y":{"field":"value","type":"quantitative","scale":{"domain":[0,2.4],"nice":false,"zero":false},"axis":{"values":[0,0.4,0.8,1.2,1.6,2,2.4],"tickCount":40,"format":"~g","grid":true,"title":["Base frequency in integration site data set /","frequency in the matched random control"],"titleFontSize":18.3,"titleFontWeight":"normal","titleColor":"#111111","titlePadding":9,"titleLineHeight":19,"titleY":56}},
   "shape":{"field":"base","type":"nominal","scale":{"domain":["A","C","G","T"],"range":["triangle-up","circle","diamond","square"]},"legend":{"title":null,"orient":"none","legendX":569.5,"legendY":20}},
   "fill":{"field":"base","type":"nominal","scale":{"domain":["A","C","G","T"],"range":["#009e49","#2e3192","#fcc117","#ec2227"]},"legend":{"title":null,"orient":"none","legendX":569.5,"legendY":20}},
   "stroke":{"field":"base","type":"nominal","scale":{"domain":["A","C","G","T"],"range":["#009e49","#2e3192","#1a1a1a","#ec2227"]},"legend":{"title":null,"orient":"none","legendX":569.5,"legendY":20}},
   "size":{"field":"base","type":"nominal","scale":{"domain":["A","C","G","T"],"range":[100,75,70,52]},"legend":{"title":null,"orient":"none","legendX":569.5,"legendY":20}}}},
 {"data":{"values":[{"name":"MLVPuro"}]},"mark":{"type":"text","align":"left","baseline":"alphabetic","fontSize":18,"dx":6,"dy":17.7,"color":"#111111"},"encoding":{"x":{"datum":-7,"type":"quantitative"},"y":{"datum":2.4,"type":"quantitative"},"text":{"field":"name"}}}
]},
{"width":554,"height":122,"layer":[
 {"data":{"values":[{"y":0.8},{"y":1.2}]},"mark":{"type":"rule","color":"#000000","strokeWidth":4},"encoding":{"y":{"field":"y","type":"quantitative"}}},
 {"data":{"values":[{"y":0.8},{"y":1.2}]},"mark":{"type":"rule","color":"#8a8a8a","strokeWidth":1.6},"encoding":{"y":{"field":"y","type":"quantitative"}}},
 {"data":{"values":[{}]},"mark":{"type":"rule","color":"#0b62b0","strokeWidth":5},"encoding":{"x":{"datum":-0.5,"type":"quantitative"},"y":{"datum":-0.045,"type":"quantitative"},"y2":{"datum":2.42}}},
 {"data":{"values":[{}]},"mark":{"type":"rect","fill":"transparent","stroke":"#ec2227","strokeWidth":2,"strokeDash":[6,4]},"encoding":{"x":{"datum":-0.2,"type":"quantitative"},"x2":{"datum":4.19},"y":{"datum":0,"type":"quantitative"},"y2":{"datum":2.4}}},
 {"data":{"name":"pts"},"transform":[{"filter":"datum.panel==='HIVmGag'"}],"mark":{"type":"point","filled":true,"opacity":1,"strokeWidth":1},"encoding":{
   "x":{"field":"pos","type":"quantitative","scale":{"domain":[-7,8],"nice":false,"zero":false},"axis":{"values":[-7,-6,-5,-4,-3,-2,-1,0,1,2,3,4,5,6,7,8],"tickCount":40,"labelExpr":"''+datum.value","title":null,"grid":false}},
   "y":{"field":"value","type":"quantitative","scale":{"domain":[0,2.4],"nice":false,"zero":false},"axis":{"values":[0,0.4,0.8,1.2,1.6,2,2.4],"tickCount":40,"format":"~g","title":null,"grid":true}},
   "shape":{"field":"base","type":"nominal","scale":{"domain":["A","C","G","T"],"range":["triangle-up","circle","diamond","square"]},"legend":{"title":null,"orient":"none","legendX":569.5,"legendY":20}},
   "fill":{"field":"base","type":"nominal","scale":{"domain":["A","C","G","T"],"range":["#009e49","#2e3192","#fcc117","#ec2227"]},"legend":{"title":null,"orient":"none","legendX":569.5,"legendY":20}},
   "stroke":{"field":"base","type":"nominal","scale":{"domain":["A","C","G","T"],"range":["#009e49","#2e3192","#1a1a1a","#ec2227"]},"legend":{"title":null,"orient":"none","legendX":569.5,"legendY":20}},
   "size":{"field":"base","type":"nominal","scale":{"domain":["A","C","G","T"],"range":[100,75,70,52]},"legend":{"title":null,"orient":"none","legendX":569.5,"legendY":20}}}},
 {"data":{"values":[{"name":"HIVmGag"}]},"mark":{"type":"text","align":"left","baseline":"alphabetic","fontSize":18,"dx":6,"dy":17.7,"color":"#111111"},"encoding":{"x":{"datum":-7,"type":"quantitative"},"y":{"datum":2.4,"type":"quantitative"},"text":{"field":"name"}}}
]},
{"width":554,"height":122,"layer":[
 {"data":{"values":[{"y":0.8},{"y":1.2}]},"mark":{"type":"rule","color":"#000000","strokeWidth":4},"encoding":{"y":{"field":"y","type":"quantitative"}}},
 {"data":{"values":[{"y":0.8},{"y":1.2}]},"mark":{"type":"rule","color":"#8a8a8a","strokeWidth":1.6},"encoding":{"y":{"field":"y","type":"quantitative"}}},
 {"data":{"values":[{}]},"mark":{"type":"rule","color":"#0b62b0","strokeWidth":5},"encoding":{"x":{"datum":-0.5,"type":"quantitative"},"y":{"datum":-0.045,"type":"quantitative"},"y2":{"datum":2.42}}},
 {"data":{"values":[{}]},"mark":{"type":"rect","fill":"transparent","stroke":"#ec2227","strokeWidth":2,"strokeDash":[6,4]},"encoding":{"x":{"datum":-0.2,"type":"quantitative"},"x2":{"datum":3.22},"y":{"datum":0,"type":"quantitative"},"y2":{"datum":2.4}}},
 {"data":{"name":"pts"},"transform":[{"filter":"datum.panel==='HIVmGagmIN'"}],"mark":{"type":"point","filled":true,"opacity":1,"strokeWidth":1},"encoding":{
   "x":{"field":"pos","type":"quantitative","scale":{"domain":[-7,8],"nice":false,"zero":false},"axis":{"values":[-7,-6,-5,-4,-3,-2,-1,0,1,2,3,4,5,6,7,8],"tickCount":40,"labelExpr":"''+datum.value","title":null,"grid":false}},
   "y":{"field":"value","type":"quantitative","scale":{"domain":[0,2.4],"nice":false,"zero":false},"axis":{"values":[0,0.4,0.8,1.2,1.6,2,2.4],"tickCount":40,"format":"~g","title":null,"grid":true}},
   "shape":{"field":"base","type":"nominal","scale":{"domain":["A","C","G","T"],"range":["triangle-up","circle","diamond","square"]},"legend":{"title":null,"orient":"none","legendX":569.5,"legendY":20}},
   "fill":{"field":"base","type":"nominal","scale":{"domain":["A","C","G","T"],"range":["#009e49","#2e3192","#fcc117","#ec2227"]},"legend":{"title":null,"orient":"none","legendX":569.5,"legendY":20}},
   "stroke":{"field":"base","type":"nominal","scale":{"domain":["A","C","G","T"],"range":["#009e49","#2e3192","#1a1a1a","#ec2227"]},"legend":{"title":null,"orient":"none","legendX":569.5,"legendY":20}},
   "size":{"field":"base","type":"nominal","scale":{"domain":["A","C","G","T"],"range":[100,75,70,52]},"legend":{"title":null,"orient":"none","legendX":569.5,"legendY":20}}}},
 {"data":{"values":[{"name":"HIVmGagmIN"}]},"mark":{"type":"text","align":"left","baseline":"alphabetic","fontSize":18,"dx":6,"dy":17.7,"color":"#111111"},"encoding":{"x":{"datum":-7,"type":"quantitative"},"y":{"datum":2.4,"type":"quantitative"},"text":{"field":"name"}}}
]},
{"width":554,"height":122,"layer":[
 {"data":{"values":[{"y":0.8},{"y":1.2}]},"mark":{"type":"rule","color":"#000000","strokeWidth":4},"encoding":{"y":{"field":"y","type":"quantitative"}}},
 {"data":{"values":[{"y":0.8},{"y":1.2}]},"mark":{"type":"rule","color":"#8a8a8a","strokeWidth":1.6},"encoding":{"y":{"field":"y","type":"quantitative"}}},
 {"data":{"values":[{}]},"mark":{"type":"rule","color":"#0b62b0","strokeWidth":5},"encoding":{"x":{"datum":-0.5,"type":"quantitative"},"y":{"datum":-0.045,"type":"quantitative"},"y2":{"datum":2.42}}},
 {"data":{"values":[{}]},"mark":{"type":"rect","fill":"transparent","stroke":"#ec2227","strokeWidth":2,"strokeDash":[6,4]},"encoding":{"x":{"datum":-0.2,"type":"quantitative"},"x2":{"datum":3.22},"y":{"datum":0,"type":"quantitative"},"y2":{"datum":2.4}}},
 {"data":{"name":"pts"},"transform":[{"filter":"datum.panel==='HIVmIN'"}],"mark":{"type":"point","filled":true,"opacity":1,"strokeWidth":1},"encoding":{
   "x":{"field":"pos","type":"quantitative","scale":{"domain":[-7,8],"nice":false,"zero":false},"axis":{"values":[-7,-6,-5,-4,-3,-2,-1,0,1,2,3,4,5,6,7,8],"tickCount":40,"labelExpr":"''+datum.value","title":null,"grid":false}},
   "y":{"field":"value","type":"quantitative","scale":{"domain":[0,2.4],"nice":false,"zero":false},"axis":{"values":[0,0.4,0.8,1.2,1.6,2,2.4],"tickCount":40,"format":"~g","title":null,"grid":true}},
   "shape":{"field":"base","type":"nominal","scale":{"domain":["A","C","G","T"],"range":["triangle-up","circle","diamond","square"]},"legend":{"title":null,"orient":"none","legendX":569.5,"legendY":20}},
   "fill":{"field":"base","type":"nominal","scale":{"domain":["A","C","G","T"],"range":["#009e49","#2e3192","#fcc117","#ec2227"]},"legend":{"title":null,"orient":"none","legendX":569.5,"legendY":20}},
   "stroke":{"field":"base","type":"nominal","scale":{"domain":["A","C","G","T"],"range":["#009e49","#2e3192","#1a1a1a","#ec2227"]},"legend":{"title":null,"orient":"none","legendX":569.5,"legendY":20}},
   "size":{"field":"base","type":"nominal","scale":{"domain":["A","C","G","T"],"range":[100,75,70,52]},"legend":{"title":null,"orient":"none","legendX":569.5,"legendY":20}}}},
 {"data":{"values":[{"name":"HIVmIN"}]},"mark":{"type":"text","align":"left","baseline":"alphabetic","fontSize":18,"dx":6,"dy":17.7,"color":"#111111"},"encoding":{"x":{"datum":-7,"type":"quantitative"},"y":{"datum":2.4,"type":"quantitative"},"text":{"field":"name"}}}
]}
],
"config":{
 "font":"Liberation Sans",
 "view":{"stroke":null},
 "axis":{"labelFont":"Liberation Sans","titleFont":"Liberation Sans","labelColor":"#222222","domainColor":"#000000","tickColor":"#000000","gridColor":"#000000","gridWidth":1,"gridOpacity":1,"labelOverlap":false,"labelFlush":false},
 "axisX":{"labelFontSize":14,"tickSize":4,"labelPadding":5,"domainWidth":1,"tickWidth":1},
 "axisY":{"labelFontSize":12,"domain":false,"ticks":false,"labelPadding":8},
 "legend":{"strokeColor":"#000000","fillColor":"#ffffff","padding":4,"labelFontSize":16,"labelFont":"Liberation Sans","labelColor":"#111111","rowPadding":3.3,"labelOffset":5,"symbolStrokeWidth":1,"cornerRadius":0,"symbolOpacity":1},
 "text":{"font":"Liberation Sans"}
}
}
